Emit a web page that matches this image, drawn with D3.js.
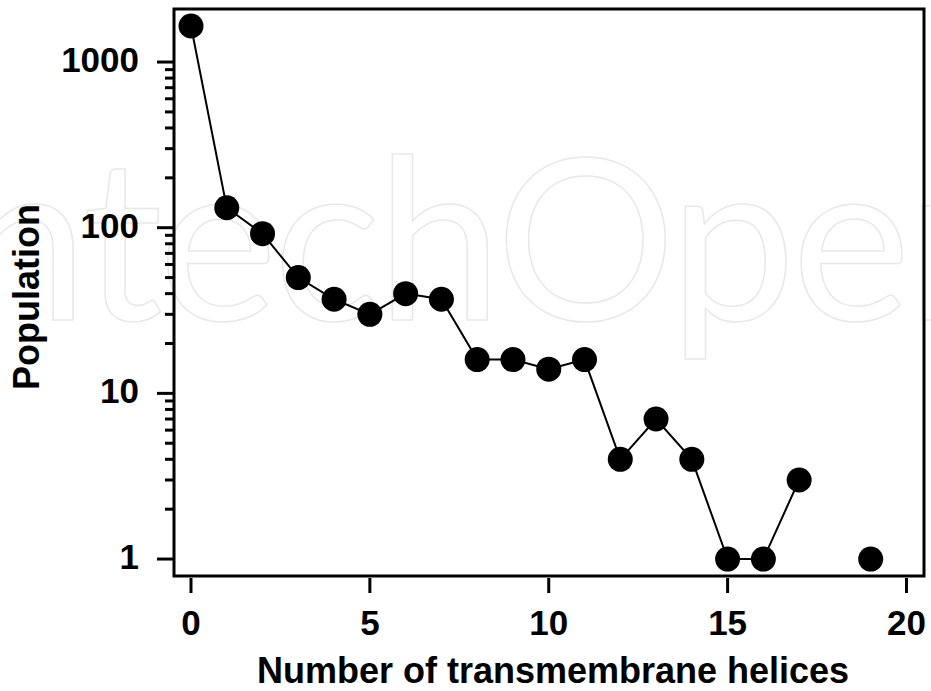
<!DOCTYPE html>
<html>
<head>
<meta charset="utf-8">
<script src="https://cdn.jsdelivr.net/npm/d3@7"></script>
<style>
  html, body { margin: 0; padding: 0; background: #fff; }
  svg { display: block; }
</style>
</head>
<body>
<script>
// number of helices and how many proteins have them (18 has none)
const helices = [0, 1, 2, 3, 4, 5, 6, 7, 8, 9, 10, 11, 12, 13, 14, 15, 16, 17, 18, 19]
const population = [1650, 132, 92, 50, 37, 30, 40, 37, 16, 16, 14, 16, 4, 7, 4, 1, 1, 3, null, 1]
const xTicks = [0, 5, 10, 15, 20]
const yTicks = [1, 10, 100, 1000]
const yMinor = [2, 3, 4, 5, 6, 7, 8, 9, 20, 30, 40, 50, 60, 70, 80, 90, 200, 300, 400, 500, 600, 700, 800, 900]

const width = 931
const height = 691
const plotL = 174, plotR = 924, plotT = 9, plotB = 576

const svg = d3.select("body").append("svg")
    .attr("width", width)
    .attr("height", height)

// faint watermark behind the plot
svg.append("text")
    .attr("x", -95)
    .attr("y", 320)
    .style("font-family", "Lato, 'Liberation Sans', sans-serif")
    .style("font-weight", 400)
    .style("font-size", "225px")
    .style("letter-spacing", "-4px")
    .style("fill", "none")
    .style("stroke", "#e8e8e8")
    .style("stroke-width", 1.5)
    .text("IntechOpen")

const x = d3.scaleLinear()
    .domain([-0.475, 20.49])
    .range([plotL, plotR])
const y = d3.scaleLog()
    .domain([0.79, 2090])
    .range([plotB, plotT])

const font = "'Liberation Sans', Arial, sans-serif"

// y ticks
svg.selectAll(".ymajor")
    .data(yTicks)
    .enter()
    .append("line")
    .attr("x1", plotL - 17)
    .attr("x2", plotL)
    .attr("y1", d => y(d))
    .attr("y2", d => y(d))
    .style("stroke", "black")
    .style("stroke-width", 3)
svg.selectAll(".yminor")
    .data(yMinor)
    .enter()
    .append("line")
    .attr("x1", plotL - 9)
    .attr("x2", plotL)
    .attr("y1", d => y(d))
    .attr("y2", d => y(d))
    .style("stroke", "black")
    .style("stroke-width", 3)
svg.selectAll(".ylabel")
    .data(yTicks)
    .enter()
    .append("text")
    .attr("x", plotL - 35)
    .attr("y", d => y(d) + 10)
    .attr("text-anchor", "end")
    .style("font-family", font)
    .style("font-weight", "bold")
    .style("font-size", "35px")
    .text(d => d)

// x ticks
svg.selectAll(".xtick")
    .data(xTicks)
    .enter()
    .append("line")
    .attr("x1", d => x(d))
    .attr("x2", d => x(d))
    .attr("y1", plotB + 2)
    .attr("y2", plotB + 17)
    .style("stroke", "black")
    .style("stroke-width", 3)
svg.selectAll(".xlabel")
    .data(xTicks)
    .enter()
    .append("text")
    .attr("x", d => x(d))
    .attr("y", 635)
    .attr("text-anchor", "middle")
    .style("font-family", font)
    .style("font-weight", "bold")
    .style("font-size", "35px")
    .text(d => d)

// frame
svg.append("rect")
    .attr("x", plotL)
    .attr("y", plotT)
    .attr("width", plotR - plotL)
    .attr("height", plotB - plotT)
    .style("fill", "none")
    .style("stroke", "black")
    .style("stroke-width", 3)

const pts = helices.map((h, i) => ({h: h, v: population[i]}))

const line = d3.line()
    .defined(d => d.v !== null)
    .x(d => x(d.h))
    .y(d => y(d.v))

svg.append("path")
    .datum(pts)
    .attr("d", line)
    .style("fill", "none")
    .style("stroke", "black")
    .style("stroke-width", 2)

svg.selectAll("circle")
    .data(pts.filter(d => d.v !== null))
    .enter()
    .append("circle")
    .attr("cx", d => x(d.h))
    .attr("cy", d => y(d.v))
    .attr("r", 12.5)
    .style("fill", "black")

// axis titles
svg.append("text")
    .attr("x", 553)
    .attr("y", 683)
    .attr("text-anchor", "middle")
    .style("font-family", font)
    .style("font-weight", "bold")
    .style("font-size", "36px")
    .text("Number of transmembrane helices")
svg.append("text")
    .attr("transform", "translate(39,297) rotate(-90)")
    .attr("text-anchor", "middle")
    .style("font-family", font)
    .style("font-weight", "bold")
    .style("font-size", "36px")
    .text("Population")
</script>
</body>
</html>
